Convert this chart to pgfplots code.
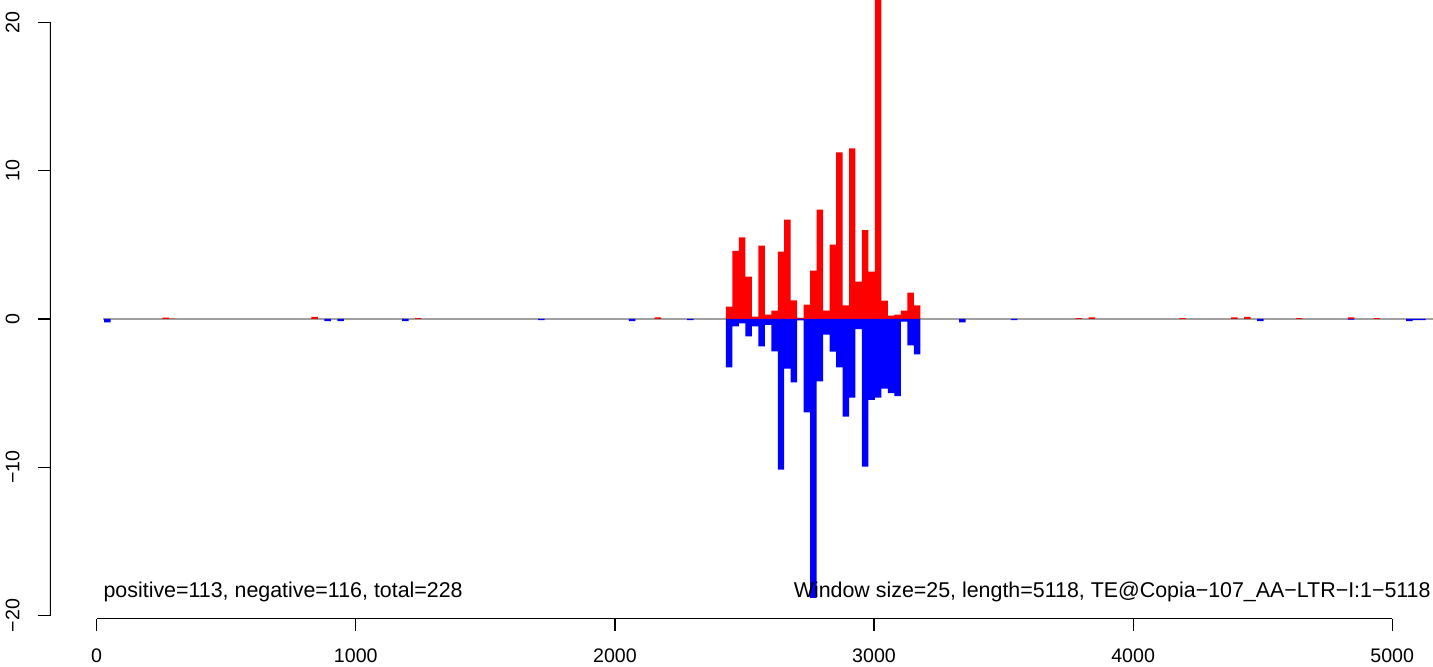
\documentclass[border=0pt]{standalone}
\usepackage{pgfplots}
\pgfplotsset{compat=1.18}
\usepackage{fontspec}
\setmainfont{Liberation Sans}
\definecolor{rred}{RGB}{255,0,0}
\definecolor{rblue}{RGB}{0,0,255}
\definecolor{zline}{RGB}{160,160,160}
\begin{document}
\begin{tikzpicture}
\useasboundingbox (0,0) rectangle (716.5pt,333.5pt);
\begin{axis}[
  at={(25pt,24pt)}, anchor=south west,
  scale only axis, width=691.5pt, height=309.5pt,
  xmin=-180.2, xmax=5157.4, ymin=-20.23, ymax=21.51,
  axis lines=left, axis line style={draw=none},
  tick align=outside, major tick length=6pt,
  tick style={black, line width=0.6pt},
  xtick={0,1000,2000,3000,4000,5000},
  xticklabels={0,1000,2000,3000,4000,5000},
  ytick={-20,-10,0,10,20},
  yticklabels={−20,−10,0,10,20},
  ticklabel style={font=\fontsize{9.8pt}{11pt}\selectfont},
  xticklabel style={anchor=north, inner sep=0pt},
  yticklabel style={rotate=90, anchor=south, inner sep=0pt},
  xticklabel shift=8.5pt, yticklabel shift=9pt,
  clip=true,
]
\addplot[zline, line width=1pt, forget plot] coordinates {(25,0) (5200,0)};
\addplot[ybar, bar width=3.24pt, bar shift=0pt, fill=rred, draw=none] coordinates {
(266,0.09) (291,0.03) (841,0.15) (1241,0.05) (2166,0.1)
(2441,0.83) (2466,4.6) (2491,5.5) (2516,2.86) (2541,0.16) (2566,4.95) (2591,0.29) (2616,0.56) (2641,4.55) (2666,6.7)
(2691,1.26) (2716,0.07) (2741,0.97) (2766,3.26) (2791,7.38) (2816,0.56) (2841,5.02) (2866,11.24) (2891,0.92) (2916,11.5)
(2941,2.52) (2966,5.99) (2991,3.2) (3016,25) (3041,1.24) (3066,0.22) (3091,0.29) (3116,0.56) (3141,1.78) (3166,0.92)
(3791,0.05) (3841,0.1) (4191,0.05) (4391,0.1) (4441,0.15) (4641,0.05) (4841,0.1) (4941,0.05)
};
\addplot[ybar, bar width=3.24pt, bar shift=0pt, fill=rblue, draw=none] coordinates {
(41,-0.23) (891,-0.15) (941,-0.15) (1191,-0.15) (1716,-0.08) (2066,-0.15) (2291,-0.08)
(2441,-3.27) (2466,-0.5) (2491,-0.3) (2516,-1.17) (2541,-0.5) (2566,-1.85) (2591,-0.4) (2616,-2.19) (2641,-10.16) (2666,-3.34)
(2691,-4.28) (2716,-0.1) (2741,-6.3) (2766,-18.8) (2791,-4.2) (2816,-1.06) (2841,-2.2) (2866,-3.27) (2891,-6.58) (2916,-5.3)
(2941,-0.68) (2966,-9.96) (2991,-5.45) (3016,-5.3) (3041,-4.7) (3066,-5.0) (3091,-5.2) (3116,-0.18) (3141,-1.78) (3166,-2.39)
(3341,-0.23) (3541,-0.08) (4491,-0.15) (4841,-0.05) (5066,-0.15) (5091,-0.08) (5116,-0.08)
};
\draw[black, line width=0.6pt] (axis cs:0,-20.23) -- (axis cs:5000,-20.23);
\draw[black, line width=0.6pt] (axis cs:-180.2,-20) -- (axis cs:-180.2,20);
\node[anchor=base west, inner sep=0pt, font=\fontsize{10.7pt}{12pt}\selectfont] at (axis cs:25,-18.78) {positive=113, negative=116, total=228};
\node[anchor=base east, inner sep=0pt, font=\fontsize{10.7pt}{12pt}\selectfont] at (axis cs:5149.7,-18.78) {Window size=25, length=5118, TE@Copia−107\_AA−LTR−I:1−5118};
\end{axis}
\end{tikzpicture}
\end{document}
